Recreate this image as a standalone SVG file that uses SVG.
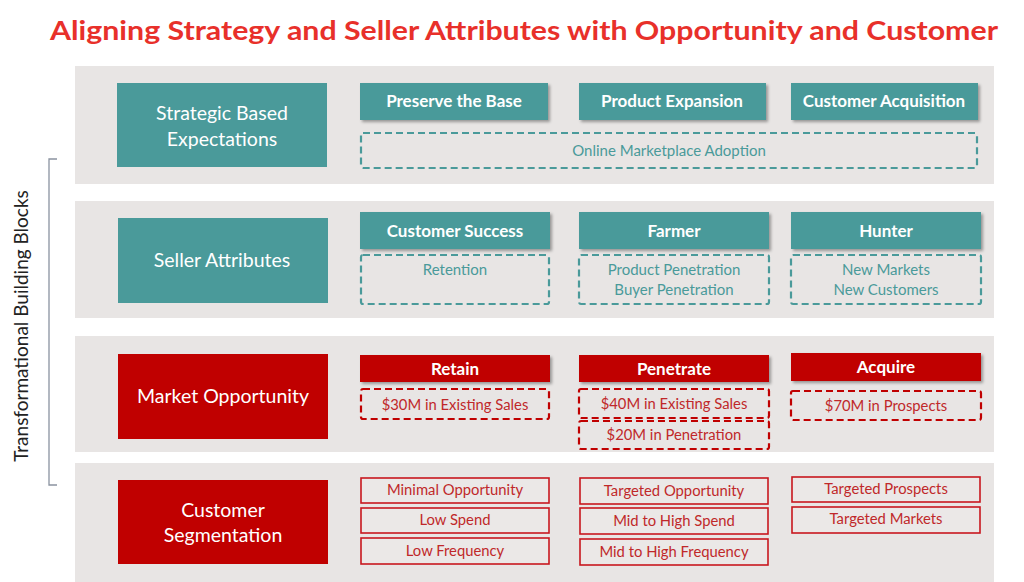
<svg xmlns="http://www.w3.org/2000/svg" width="1024" height="582" viewBox="0 0 1024 582">
<style>
text{font-family:Lato,"Open Sans","Liberation Sans",sans-serif;text-anchor:middle}
.band{fill:#E8E5E4}
.tealbox{fill:#4A9A9A}
.redbox{fill:#C00000}
.main{fill:#fff;font-size:19.5px}
.hdr{fill:#fff;font-size:17px;font-weight:bold}
.dt{fill:none;stroke:#4A9A9A;stroke-width:2.2;stroke-dasharray:7,4}
.dr{fill:none;stroke:#C00000;stroke-width:2.2;stroke-dasharray:7,4}
.tt{fill:#4A9A9A;font-size:15px}
.rt{fill:#C0282A;font-size:14.8px}
.seg{fill:#EBE8E7;stroke:#C8171E;stroke-width:1.6}
</style>
<defs>
<filter id="sh" x="-5%" y="-20%" width="115%" height="160%">
<feDropShadow dx="2" dy="2" stdDeviation="1.5" flood-color="#000" flood-opacity="0.35"/>
</filter>
</defs>
<rect width="1024" height="582" fill="#fff"/>
<text x="524" y="40" font-size="26" font-weight="bold" fill="#E8302A" textLength="948" lengthAdjust="spacingAndGlyphs">Aligning Strategy and Seller Attributes with Opportunity and Customer</text>

<g id="bands">
<rect class="band" x="75" y="66" width="919" height="118"/>
<rect class="band" x="75" y="201" width="919" height="117"/>
<rect class="band" x="75" y="336" width="919" height="116"/>
<rect class="band" x="75" y="463" width="919" height="119"/>
</g>

<g id="bracket">
<path d="M57 159 H49 V485 H57" fill="none" stroke="#8A93A0" stroke-width="1.3"/>
<text transform="translate(28 326) rotate(-90)" font-size="19" fill="#222">Transformational Building Blocks</text>
</g>

<g id="strategic">
<rect class="tealbox" x="117" y="83" width="210" height="84"/>
<text class="main" x="222" y="120">Strategic Based</text>
<text class="main" x="222" y="146">Expectations</text>
</g>
<g id="preserve">
<rect class="tealbox" x="360" y="83" width="188" height="37" filter="url(#sh)"/>
<text class="hdr" x="454" y="107">Preserve the Base</text>
</g>
<g id="product-expansion">
<rect class="tealbox" x="579" y="83" width="187" height="37" filter="url(#sh)"/>
<text class="hdr" x="672" y="107">Product Expansion</text>
</g>
<g id="customer-acquisition">
<rect class="tealbox" x="791" y="83" width="187" height="37" filter="url(#sh)"/>
<text class="hdr" x="884" y="107">Customer Acquisition</text>
</g>
<g id="online-marketplace">
<rect class="dt" x="361" y="133" width="616" height="35" rx="2"/>
<text class="tt" x="669" y="156">Online Marketplace Adoption</text>
</g>

<g id="seller">
<rect class="tealbox" x="118" y="218" width="210" height="85"/>
<text class="main" x="222" y="267">Seller Attributes</text>
</g>
<g id="customer-success">
<rect class="tealbox" x="360" y="212" width="190" height="37" filter="url(#sh)"/>
<text class="hdr" x="455" y="237">Customer Success</text>
</g>
<g id="farmer">
<rect class="tealbox" x="579" y="212" width="190" height="37" filter="url(#sh)"/>
<text class="hdr" x="674" y="237">Farmer</text>
</g>
<g id="hunter">
<rect class="tealbox" x="791" y="212" width="190" height="37" filter="url(#sh)"/>
<text class="hdr" x="886" y="237">Hunter</text>
</g>
<g id="retention">
<rect class="dt" x="361" y="255" width="188" height="49" rx="2"/>
<text class="tt" x="455" y="275">Retention</text>
</g>
<g id="farmer-detail">
<rect class="dt" x="579" y="255" width="190" height="49" rx="2"/>
<text class="tt" x="674" y="275">Product Penetration</text>
<text class="tt" x="674" y="295">Buyer Penetration</text>
</g>
<g id="hunter-detail">
<rect class="dt" x="791" y="255" width="190" height="49" rx="2"/>
<text class="tt" x="886" y="275">New Markets</text>
<text class="tt" x="886" y="295">New Customers</text>
</g>

<g id="market">
<rect class="redbox" x="118" y="354" width="210" height="85"/>
<text class="main" x="223" y="403">Market Opportunity</text>
</g>
<g id="retain">
<rect class="redbox" x="360" y="355" width="190" height="27" filter="url(#sh)"/>
<text class="hdr" x="455" y="375">Retain</text>
</g>
<g id="penetrate">
<rect class="redbox" x="579" y="355" width="190" height="27" filter="url(#sh)"/>
<text class="hdr" x="674" y="375">Penetrate</text>
</g>
<g id="acquire">
<rect class="redbox" x="791" y="353" width="190" height="28" filter="url(#sh)"/>
<text class="hdr" x="886" y="373">Acquire</text>
</g>
<g id="retain-30m">
<rect class="dr" x="361" y="389" width="188" height="30" rx="2"/>
<text class="rt" x="455" y="410">$30M in Existing Sales</text>
</g>
<g id="penetrate-40m">
<rect class="dr" x="579" y="389" width="190" height="29" rx="2"/>
<text class="rt" x="674" y="409">$40M in Existing Sales</text>
</g>
<g id="penetrate-20m">
<rect class="dr" x="579" y="421" width="190" height="28" rx="2"/>
<text class="rt" x="674" y="440">$20M in Penetration</text>
</g>
<g id="acquire-70m">
<rect class="dr" x="791" y="391" width="190" height="29" rx="2"/>
<text class="rt" x="886" y="411">$70M in Prospects</text>
</g>

<g id="segmentation">
<rect class="redbox" x="118" y="480" width="210" height="84"/>
<text class="main" x="223" y="517">Customer</text>
<text class="main" x="223" y="542">Segmentation</text>
</g>
<g id="minimal-opportunity">
<rect class="seg" x="361" y="478" width="188" height="25"/>
<text class="rt" x="455" y="495">Minimal Opportunity</text>
</g>
<g id="low-spend">
<rect class="seg" x="361" y="508" width="188" height="25"/>
<text class="rt" x="455" y="525">Low Spend</text>
</g>
<g id="low-frequency">
<rect class="seg" x="361" y="538" width="188" height="26"/>
<text class="rt" x="455" y="556">Low Frequency</text>
</g>
<g id="targeted-opportunity">
<rect class="seg" x="580" y="478" width="188" height="26"/>
<text class="rt" x="674" y="496">Targeted Opportunity</text>
</g>
<g id="mid-high-spend">
<rect class="seg" x="580" y="508" width="188" height="26"/>
<text class="rt" x="674" y="526">Mid to High Spend</text>
</g>
<g id="mid-high-frequency">
<rect class="seg" x="580" y="539" width="188" height="26"/>
<text class="rt" x="674" y="557">Mid to High Frequency</text>
</g>
<g id="targeted-prospects">
<rect class="seg" x="792" y="477" width="188" height="25"/>
<text class="rt" x="886" y="494">Targeted Prospects</text>
</g>
<g id="targeted-markets">
<rect class="seg" x="792" y="507" width="188" height="26"/>
<text class="rt" x="886" y="524">Targeted Markets</text>
</g>
<g id="connectors"/>
</svg>
